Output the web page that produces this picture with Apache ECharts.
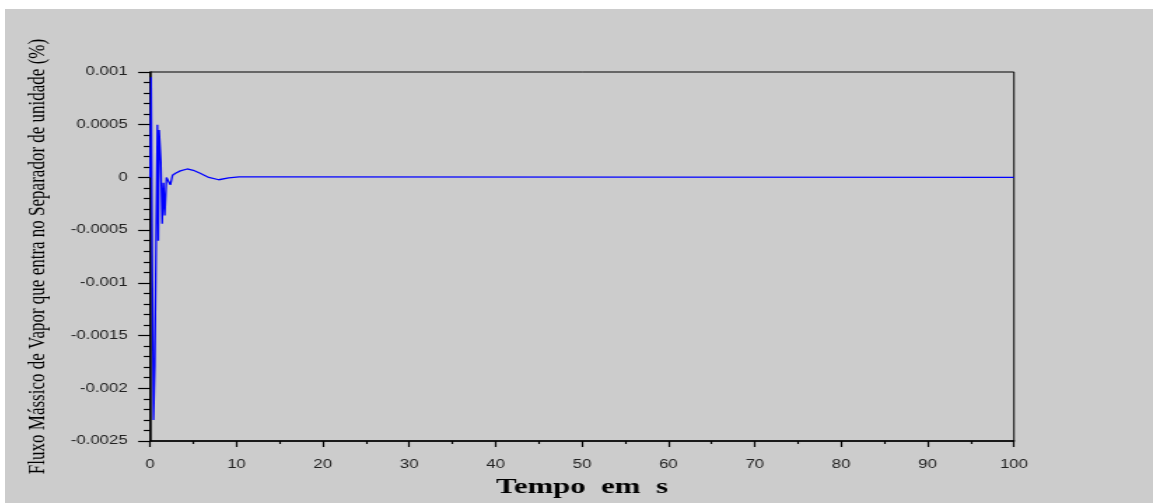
<!DOCTYPE html>
<html>
<head>
<meta charset="utf-8">
<title>Fluxo Mássico de Vapor</title>
<script src="https://cdn.jsdelivr.net/npm/echarts@6/dist/echarts.min.js"></script>
<style>
  html, body { margin: 0; padding: 0; background: #fff; }
  #frame { position: absolute; left: 5px; top: 9px; width: 1148px; height: 494px; background: #cccccc; overflow: hidden; }
  /* the source plot is a sideways-stretched export, so draw narrow and widen it */
  #chart { position: absolute; left: 0; top: 0; width: 820px; height: 494px; transform: scaleX(1.4); transform-origin: 0 0; }
</style>
</head>
<body>
<div id="frame"><div id="chart"></div></div>
<script>
// ── data ───────────────────────────────────────────────────
const tempo = [
  0, 0.12, 0.25, 0.4, 0.55, 0.7, 0.85, 0.95, 1.05, 1.25,
  1.4, 1.55, 1.7, 1.9, 2.1, 2.35, 2.6, 2.95, 3.5, 4.3,
  5.0, 5.8, 6.8, 7.95, 9.1, 10.3, 13.7, 14.0, 100,
]
const fluxo = [
  0, 0.00095, -0.00074, -0.0023, -0.00178, -0.0006, 0.0005, -0.0006, 0.00045, 0.00015,
  -0.00044, -0.00005, -0.00036, 0.0, 0.0, -0.00007, 0.00002, 0.00004, 0.000062, 0.00008,
  0.000068, 0.00004, 0.0, -0.000022, -0.000005, 0.000006, 0.000006, 0, 0,
]

const xTicks = [0, 10, 20, 30, 40, 50, 60, 70, 80, 90, 100]
const yTicks = [-0.0025, -0.002, -0.0015, -0.001, -0.0005, 0, 0.0005, 0.001]

const xName = 'Tempo  em  s'
const yName = 'Fluxo Mássico de Vapor que entra no Separador de unidade (%)'

// ── chart ──────────────────────────────────────────────────
const chart = echarts.init(document.getElementById('chart'), null, { renderer: 'canvas' })

const tickFont = { color: '#222', fontSize: 12, fontFamily: 'Liberation Sans, Arial, sans-serif' }

chart.setOption({
  animation: false,
  backgroundColor: 'transparent',
  grid: {
    left: 103.6, right: 99.3, top: 63, bottom: 57,
    show: true, borderColor: '#000', borderWidth: 1, backgroundColor: 'transparent',
  },
  xAxis: {
    type: 'value',
    min: xTicks[0],
    max: xTicks[xTicks.length - 1],
    interval: xTicks[1] - xTicks[0],
    name: xName,
    nameLocation: 'middle',
    nameGap: 35,
    nameTextStyle: { color: '#000', fontSize: 22, fontWeight: 'bold', fontFamily: 'Liberation Serif, Times New Roman, serif' },
    axisLine: { onZero: false, lineStyle: { color: '#000', width: 1.5 } },
    axisTick: { length: 6, lineStyle: { color: '#000', width: 1.2 } },
    minorTick: { show: true, splitNumber: 2, length: 3, lineStyle: { color: '#000', width: 1.2 } },
    axisLabel: { ...tickFont, margin: 18 },
    splitLine: { show: false },
  },
  yAxis: {
    type: 'value',
    min: yTicks[0],
    max: yTicks[yTicks.length - 1],
    interval: yTicks[1] - yTicks[0],
    name: yName,
    nameLocation: 'middle',
    nameRotate: 90,
    nameGap: 72,
    nameTextStyle: { color: '#000', fontSize: 17, fontFamily: 'Liberation Serif, Times New Roman, serif' },
    axisLine: { onZero: false, lineStyle: { color: '#000', width: 1.5 } },
    axisTick: { length: 8.5, lineStyle: { color: '#000', width: 1.2 } },
    minorTick: { show: true, splitNumber: 5, length: 4.5, lineStyle: { color: '#000', width: 1.2 } },
    axisLabel: {
      ...tickFont,
      margin: 16,
      formatter: v => String(+v.toFixed(4)),
    },
    splitLine: { show: false },
  },
  series: [{
    type: 'line',
    data: tempo.map((t, i) => [t, fluxo[i]]),
    showSymbol: false,
    lineStyle: { color: '#0000ff', width: 1.3 },
  }],
})
</script>
</body>
</html>
